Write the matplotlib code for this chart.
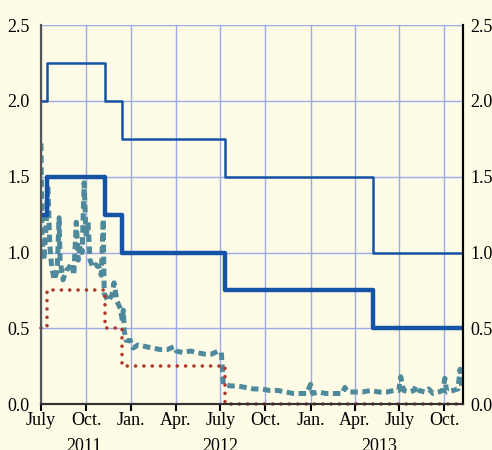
import datetime as dt
import matplotlib
matplotlib.use("Agg")
import matplotlib.pyplot as plt
import matplotlib.dates as mdates

# ECB policy rates (step changes) and EONIA
rate_dates = ["2011-07-01", "2011-07-13", "2011-11-09", "2011-12-14",
              "2012-07-11", "2013-05-08", "2013-11-08"]
marginal_lending = [2.00, 2.25, 2.00, 1.75, 1.50, 1.00, 1.00]
main_refi = [1.25, 1.50, 1.25, 1.00, 0.75, 0.50, 0.50]
deposit = [0.50, 0.75, 0.50, 0.25, 0.00, 0.00, 0.00]

eonia_days = [0, 2, 6, 10, 14, 18, 22, 27, 33, 37, 39, 45, 51, 57, 63, 67, 72,
              76, 80, 84, 88, 92, 96, 100, 106, 112, 119, 123, 127, 129, 137,
              145, 149, 155, 162, 166, 168, 170, 174, 182, 188, 198, 213, 227,
              243, 258, 272, 276, 290, 305, 319, 333, 348, 362, 368, 372, 387,
              401, 417, 434, 450, 466, 483, 499, 515, 530, 542, 550, 554, 567,
              581, 595, 607, 615, 620, 626, 640, 656, 673, 689, 706, 720, 730,
              734, 740, 751, 761, 765, 771, 783, 791, 800, 812, 820, 824, 828,
              841, 851, 855, 859, 861]
eonia = [1.72, 1.10, 0.95, 1.15, 1.44, 1.05, 0.90, 0.82, 0.88, 1.23, 0.95,
         0.82, 0.88, 0.90, 0.93, 0.85, 1.20, 0.95, 1.05, 1.00, 1.46, 1.10, 1.20,
         0.95, 0.90, 0.92, 0.90, 0.85, 1.22, 0.73, 0.68, 0.72, 0.80, 0.68, 0.63,
         0.55, 0.62, 0.48, 0.42, 0.42, 0.37, 0.39, 0.38, 0.37, 0.36, 0.36, 0.38,
         0.35, 0.34, 0.35, 0.34, 0.33, 0.33, 0.35, 0.34, 0.13, 0.12, 0.12, 0.11,
         0.10, 0.10, 0.09, 0.09, 0.08, 0.07, 0.07, 0.07, 0.13, 0.07, 0.08, 0.07,
         0.07, 0.07, 0.07, 0.11, 0.08, 0.08, 0.08, 0.09, 0.08, 0.08, 0.09, 0.09,
         0.18, 0.09, 0.08, 0.09, 0.12, 0.09, 0.08, 0.10, 0.07, 0.08, 0.09, 0.17,
         0.08, 0.09, 0.10, 0.23, 0.10, 0.10]

tick_dates = ["2011-07-01", "2011-10-01", "2012-01-01", "2012-04-01",
              "2012-07-01", "2012-10-01", "2013-01-01", "2013-04-01",
              "2013-07-01", "2013-10-01"]
tick_labels = ["July", "Oct.", "Jan.", "Apr.", "July", "Oct.", "Jan.", "Apr.",
               "July", "Oct."]
years = ["2011", "2012", "2013"]
year_pos = ["2011-09-26", "2012-07-01", "2013-05-22"]
y_ticks = [0, 0.5, 1.0, 1.5, 2.0, 2.5]
y_labels = ["0.0", "0.5", "1.0", "1.5", "2.0", "2.5"]

bg = "#fefbe6"
plt.rcParams["font.family"] = ["Liberation Serif", "DejaVu Serif"]

start = dt.date(2011, 7, 1)
rd = [dt.date.fromisoformat(d) for d in rate_dates]
ed = [start + dt.timedelta(days=d) for d in eonia_days]

fig = plt.figure(figsize=(4.92, 4.5), dpi=100, facecolor=bg)
ax = fig.add_axes([0.0833, 0.102, 0.8577, 0.842], facecolor=bg)

ax.step(rd, marginal_lending, where="post", color="#1553a6", lw=1.8, zorder=3)
ax.step(rd, main_refi, where="post", color="#1553a6", lw=3.2, zorder=3)
ax.step(rd, deposit, where="post", color="#b0392e", lw=2.6,
        linestyle=(0, (0.01, 2.3)), dash_capstyle="round", zorder=4, clip_on=False)
ax.plot(ed, eonia, color="#4f8a9c", lw=3.6, linestyle=(0, (1.5, 0.9)), zorder=2)

ax.set_xlim(start, dt.date(2013, 11, 8))
ax.set_ylim(0, 2.5)
ax.set_yticks(y_ticks)
ax.set_yticklabels(y_labels)
ax.set_xticks([mdates.date2num(dt.date.fromisoformat(d)) for d in tick_dates])
ax.set_xticklabels(tick_labels)
ax.grid(True, color="#9daaea", lw=1.0)
ax.set_axisbelow(True)
ax.tick_params(axis="y", length=0, labelsize=13, pad=8)
ax.tick_params(axis="x", length=5, width=1.5, labelsize=13, pad=1, color="black")

# right-hand labels
ax2 = ax.twinx()
ax2.set_ylim(0, 2.5)
ax2.set_yticks(y_ticks)
ax2.set_yticklabels(y_labels)
ax2.tick_params(axis="y", length=0, labelsize=13, pad=5)

for a in (ax, ax2):
    a.spines["top"].set_visible(False)
    a.spines["left"].set_color("#555555")
    a.spines["left"].set_linewidth(1.5)
    a.spines["right"].set_color("black")
    a.spines["right"].set_linewidth(1.5)
    a.spines["bottom"].set_color("#333333")
    a.spines["bottom"].set_linewidth(1.5)

for yr, pos in zip(years, year_pos):
    ax.text(mdates.date2num(dt.date.fromisoformat(pos)), -0.112, yr,
            transform=ax.get_xaxis_transform(), ha="center", va="center",
            fontsize=13)

fig.savefig("out.png", dpi=100, facecolor=bg)
